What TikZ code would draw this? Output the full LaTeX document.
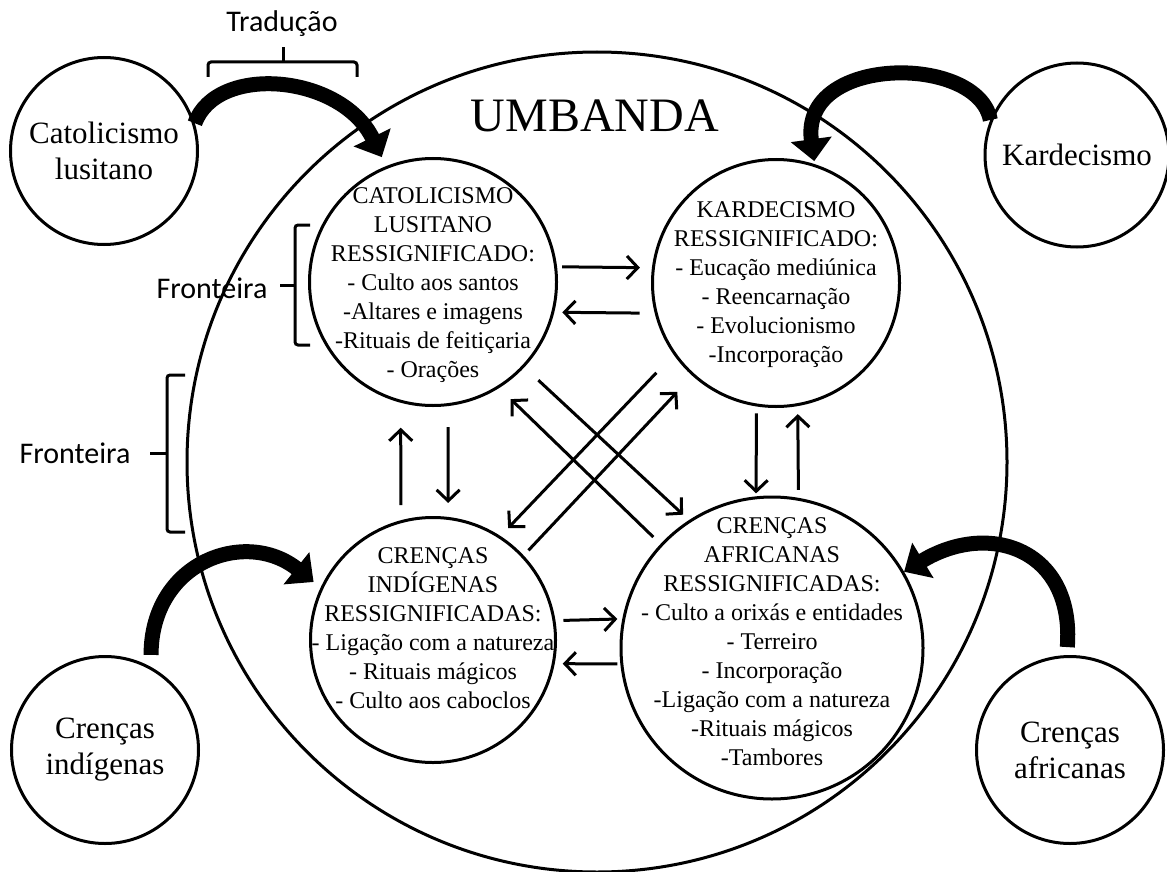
\documentclass[tikz,border=0pt]{standalone}
\usepackage{fontspec}
\setmainfont{Liberation Serif}
\newfontfamily\calibri{Carlito}
\usetikzlibrary{arrows.meta}

\begin{document}
\begin{tikzpicture}[x=1pt,y=-1pt]
\tikzstyle{circ}=[circle,draw,line width=3pt,inner sep=0pt]
\tikzstyle{inner}=[align=center,font=\fontsize{24}{29}\selectfont]
\tikzstyle{outer}=[circ,align=center,font=\fontsize{31}{36}\selectfont,minimum size=187pt]
\tikzstyle{arr}=[line width=3pt,-{Straight Barb[length=11pt,width=23pt]}]
\tikzstyle{bigarr}=[line width=15pt,-{Triangle[length=22pt,width=40pt]}]
\tikzstyle{brack}=[line width=3pt,rounded corners=3pt]
\tikzstyle{sans}=[font=\calibri\fontsize{30}{36}\selectfont]
\useasboundingbox (0,0) rectangle (1167,872);

\node[circ,minimum size=820pt] (umb) at (597,462) {};
\node[font=\fontsize{48}{56}\selectfont] (umbtxt) at (595,116) {UMBANDA};

\node[circ,minimum size=247pt] (cat) at (433,282) {};
\node[inner] (cattxt) at (433,285) {CATOLICISMO\\LUSITANO\\RESSIGNIFICADO:\\- Culto aos santos\\-Altares e imagens\\-Rituais de feitiçaria\\- Orações};
\node[circ,minimum size=247pt] (kard) at (776,283) {};
\node[inner] (kardtxt) at (776,285) {KARDECISMO\\RESSIGNIFICADO:\\- Eucação mediúnica\\- Reencarnação\\- Evolucionismo\\-Incorporação};
\node[circ,minimum size=245pt] (ind) at (433,640) {};
\node[inner] (indtxt) at (433,628) {CRENÇAS\\INDÍGENAS\\RESSIGNIFICADAS:\\- Ligação com a natureza\\- Rituais mágicos\\- Culto aos caboclos};
\node[circ,minimum size=302pt] (afr) at (772,648) {};
\node[inner] (afrtxt) at (772,642) {CRENÇAS\\AFRICANAS\\RESSIGNIFICADAS:\\- Culto a orixás e entidades\\- Terreiro\\- Incorporação\\-Ligação com a natureza\\-Rituais mágicos\\-Tambores};

\node[outer] (catout) at (104,151) {Catolicismo\\lusitano};
\node[outer,minimum size=184pt] (kardout) at (1077,155) {Kardecismo};
\node[outer] (indout) at (105,750) {Crenças\\indígenas};
\node[outer] (afrout) at (1070,750) {Crenças\\africanas};

\draw[bigarr,shorten >=10pt] (catout.17) .. controls +(22,-60) and +(-45,-92) .. (cat.112);
\draw[bigarr,shorten >=3pt] (kardout.158) .. controls +(-12,-66) and +(-15,-110) .. (kard.72);
\draw[bigarr,shorten <=12pt,shorten >=9pt] (indout.61) .. controls +(0,-105) and +(-75,-60) .. (ind.155);
\draw[bigarr,shorten <=8pt] (afrout.92) .. controls +(8,-105) and +(86,-52) .. (afr.30);

\draw[arr,shorten <=5pt,shorten >=12pt] (cat.7) -- (kard.173);
\draw[arr,shorten <=15pt,shorten >=8pt] (kard.194) -- (cat.-14);
\draw[arr,shorten <=8pt,shorten >=5pt] (ind.9) -- (afr.169);
\draw[arr,shorten <=3pt,shorten >=8pt] (afr.186) -- (ind.-11);
\draw[arr,shorten <=15pt,shorten >=25pt] (ind.105) -- (cat.-105);
\draw[arr,shorten <=21pt,shorten >=14pt] (cat.-83) -- (ind.83);
\draw[arr,shorten <=7pt,shorten >=3pt] (kard.-99) -- (afr.96);
\draw[arr,shorten <=8pt,shorten >=8pt] (afr.80) -- (kard.-80);
\draw[arr,shorten <=19pt,shorten >=8pt] (cat.-43) -- (afr.123);
\draw[arr,shorten <=10pt,shorten >=16pt] (afr.137) -- (cat.-58);
\draw[arr,shorten <=25pt,shorten >=11pt] (kard.-145) -- (ind.57);
\draw[arr,shorten <=7pt,shorten >=22pt] (ind.43) -- (kard.-132);

\node[sans] (trad) at (282,24) {Tradução};
\draw[brack] (208,77) -- (208,62) -- (357,62) -- (357,77);
\draw[brack] (283,62) -- (283,47);
\node[sans] (front1) at (212,288) {Fronteira};
\draw[brack] (310,225) -- (295,225) -- (295,345) -- (310,345);
\draw[brack] (295,285) -- (280,285);
\node[sans] (front2) at (75,453) {Fronteira};
\draw[brack] (185,375) -- (167,375) -- (167,532) -- (185,532);
\draw[brack] (167,453) -- (150,453);
\end{tikzpicture}
\end{document}
